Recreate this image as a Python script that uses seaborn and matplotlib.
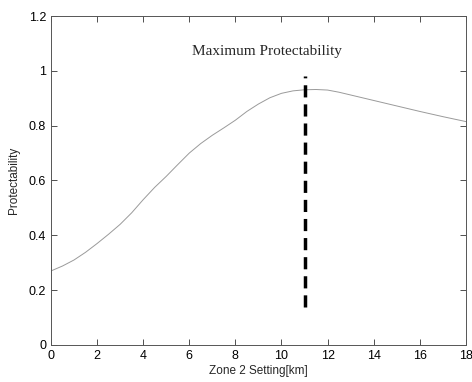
import numpy as np
import pandas as pd
import matplotlib
matplotlib.use("Agg")
import matplotlib.pyplot as plt
import seaborn as sb

# values
setting_km = [0, 0.5, 1, 1.5, 2, 2.5, 3, 3.5, 4, 4.5, 5, 5.5, 6, 6.5, 7, 7.5, 8,
              8.5, 9, 9.5, 10, 10.5, 11, 11.5, 12, 12.5, 13, 13.5, 14, 15, 16, 17, 18]
protectability = [0.27, 0.288, 0.31, 0.338, 0.37, 0.404, 0.44, 0.482, 0.53, 0.575,
                  0.615, 0.658, 0.70, 0.735, 0.765, 0.792, 0.82, 0.852, 0.879, 0.902,
                  0.918, 0.927, 0.931, 0.932, 0.93, 0.922, 0.912, 0.902, 0.892,
                  0.872, 0.852, 0.833, 0.815]
max_x = [11, 11]
max_y = [0.14, 0.98]
note = "Maximum Protectability"
xticks = [0, 2, 4, 6, 8, 10, 12, 14, 16, 18]
yticks = [0, 0.2, 0.4, 0.6, 0.8, 1.0, 1.2]
yticklabels = ["0", "0.2", "0.4", "0.6", "0.8", "1", "1.2"]

sb.set_style("ticks")
plt.rcParams['font.family'] = ['Liberation Sans', 'DejaVu Sans']

df = pd.DataFrame({"x": setting_km, "y": protectability})

fig = plt.figure(figsize=(4.72, 3.82), dpi=100)
ax = fig.add_axes([0.108, 0.097, 0.879, 0.861])

sb.lineplot(data=df, x="x", y="y", ax=ax, color="#9a9a9a", linewidth=0.7)
ax.plot(max_x, max_y, color="black", linewidth=2.5, linestyle=(0, (3.5, 2)))
ax.text(9.37, 1.069, note, family=['Liberation Serif', 'DejaVu Serif'],
        fontsize=11, ha="center", va="center")

ax.set_xlim(0, 18)
ax.set_ylim(0, 1.2)
ax.set_xticks(xticks)
ax.set_yticks(yticks)
ax.set_yticklabels(yticklabels)
ax.tick_params(direction="in", length=4, width=0.6, labelsize=9,
               top=True, right=True, colors="#333333", labelcolor="black")
for s in ax.spines.values():
    s.set_linewidth(0.7)
    s.set_color("#555555")
ax.set_xlabel("Zone 2 Setting[km]", fontsize=8.5, labelpad=2)
ax.set_ylabel("Protectability", fontsize=8.5, labelpad=6)

plt.savefig("out.png", dpi=100)
